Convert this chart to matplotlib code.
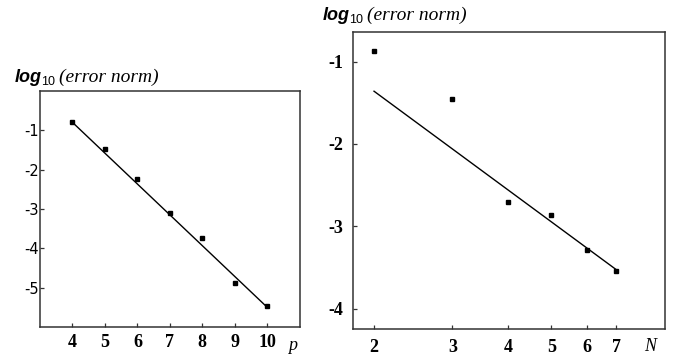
import matplotlib
matplotlib.use("Agg")
import matplotlib.pyplot as plt
import numpy as np

plt.rcParams["axes.unicode_minus"] = False

# Left panel data
p_vals = [4, 5, 6, 7, 8, 9, 10]
p_err = [-0.80, -1.48, -2.25, -3.10, -3.75, -4.88, -5.48]
p_fit_x = [4, 10]
p_fit_y = [-0.80, -5.50]
p_xticks = [4, 5, 6, 7, 8, 9, 10]
p_yticks = [-1, -2, -3, -4, -5]

# Right panel data
N_vals = [2, 3, 4, 5, 6, 7]
N_err = [-0.87, -1.46, -2.70, -2.86, -3.29, -3.545]
N_fit_x = [2, 7]
N_fit_y = [-1.36, -3.53]
N_xticks = [2, 3, 4, 5, 6, 7]
N_yticks = [-1, -2, -3, -4]

serif = ["Liberation Serif"]
fig = plt.figure(figsize=(6.78, 3.55), dpi=100)
renderer = fig.canvas.get_renderer()
W, H = 678.0, 355.0

def frame(ax):
    for s in ax.spines.values():
        s.set_linewidth(1.1)
        s.set_color("#333333")

def ylabel(xpix, ybase_pix):
    yb = 1 - ybase_pix / H
    t1 = fig.text(xpix / W, yb, "log", fontsize=13, fontweight="bold", style="italic",
                  family=["Liberation Sans"], ha="left", va="baseline")
    x2 = t1.get_window_extent(renderer).x1 - 1
    t2 = fig.text(x2 / W, yb - 3 / H, "10", fontsize=9,
                  family=["Liberation Sans"], ha="left", va="baseline")
    x3 = t2.get_window_extent(renderer).x1 + 4
    fig.text(x3 / W, yb, "(error norm)", fontsize=14, style="italic",
             family=serif, ha="left", va="baseline")

# ---------- left panel ----------
ax1 = fig.add_axes([0.059, 0.079, 0.383, 0.665])
ax1.plot(p_fit_x, p_fit_y, color="black", lw=1.0)
ax1.plot(p_vals, p_err, "s", color="black", ms=2.8)
ax1.set_xlim(3, 11)
ax1.set_ylim(-6, 0)
ax1.set_xticks(p_xticks)
ax1.set_xticklabels([str(v) for v in p_xticks], family=serif, fontsize=13,
                    fontweight="bold")
ax1.set_yticks(p_yticks)
ax1.set_yticklabels([str(v) for v in p_yticks], family=["DejaVu Sans"], fontsize=10.5)
frame(ax1)
ax1.tick_params(axis="x", direction="in", length=3, width=0.9, colors="#333333",
                labelcolor="black", pad=5)
ax1.tick_params(axis="y", direction="in", length=3, width=0.9, colors="#333333",
                labelcolor="black", pad=1)
fig.text(293 / W, 1 - 350 / H, "p", fontsize=13, style="italic",
         family=serif, ha="center", va="baseline")
ylabel(15, 82)

# ---------- right panel ----------
ax2 = fig.add_axes([0.520, 0.073, 0.461, 0.837])
ax2.set_xscale("log")
ax2.plot(N_fit_x, N_fit_y, color="black", lw=1.0)
ax2.plot(N_vals, N_err, "s", color="black", ms=2.8)
ax2.set_xlim(1.79, 9.0)
ax2.set_ylim(-4.25, -0.64)
ax2.set_xticks(N_xticks)
ax2.set_xticklabels([str(v) for v in N_xticks], family=serif, fontsize=13,
                    fontweight="bold")
ax2.xaxis.set_minor_locator(matplotlib.ticker.NullLocator())
ax2.set_yticks(N_yticks)
ax2.set_yticklabels([str(v) for v in N_yticks], family=serif, fontsize=13,
                    fontweight="bold")
frame(ax2)
ax2.tick_params(direction="in", length=3, width=0.9, colors="#333333",
                labelcolor="black", pad=7)
fig.text(650 / W, 1 - 351 / H, "N", fontsize=13, style="italic",
         family=serif, ha="center", va="baseline")
ylabel(323, 20)

fig.savefig("out.png", dpi=100)
